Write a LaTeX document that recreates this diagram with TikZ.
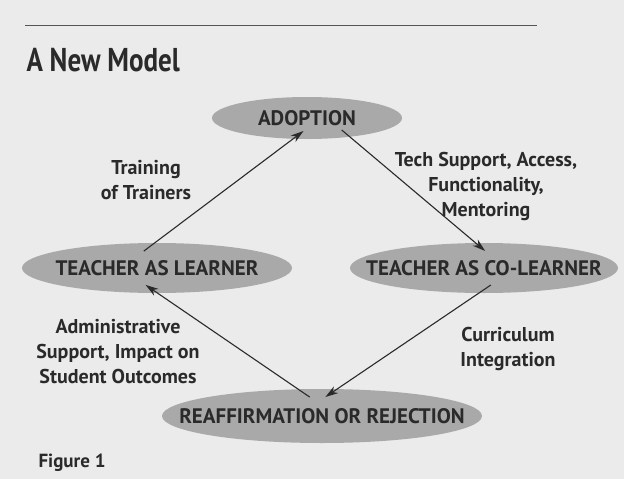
\documentclass[tikz,border=0pt]{standalone}
\usepackage{fontspec}
\setmainfont{PT Sans}
\newfontfamily\narrowfont{PT Sans}[FakeStretch=0.82]
\usetikzlibrary{arrows.meta,shapes.geometric}
\definecolor{paper}{HTML}{EBEBEB}
\definecolor{blob}{HTML}{A9A9A9}
\definecolor{ink}{HTML}{2A2A2A}
\tikzset{
	stage/.style={ellipse, fill=blob, text=ink, font=\bfseries\fontsize{21}{24}\selectfont, outer sep=-8pt, inner sep=-60pt},
	note/.style={text=ink, font=\bfseries\fontsize{20}{25}\selectfont, align=center},
	link/.style={-{Stealth[length=13pt,width=8pt]}, draw=ink, line width=1.1pt}
}
\begin{document}
\begin{tikzpicture}[x=1pt,y=-1pt]
\fill[paper] (0,0) rectangle (624,479);
\useasboundingbox (0,0) rectangle (624,479);

\draw[ink!80, line width=0.8pt] (25,25) -- (537,25);
\node at (23,60)[anchor=west, text=ink, font=\narrowfont\bfseries\fontsize{33}{38}\selectfont](title){A New Model};

\node at (307,118)[stage, minimum width=190pt, minimum height=42pt](adopt){ADOPTION};
\node at (157,268)[stage, minimum width=270pt, minimum height=50pt](learner){TEACHER AS LEARNER};
\node at (484,268)[stage, minimum width=268pt, minimum height=50pt](colearner){TEACHER AS CO-LEARNER};
\node at (322,416)[stage, minimum width=320pt, minimum height=54pt](reaff){REAFFIRMATION OR REJECTION};

\draw[link] (learner.128) -- (adopt.255);
\draw[link] (adopt.-19) -- (colearner.86);
\draw[link] (colearner.-68) -- (reaff.80);
\draw[link] (reaff.123) -- (learner.-124);

\node at (146,180)[note](tt){Training\\of Trainers};
\node at (486,186)[note](tech){Tech Support, Access,\\Functionality,\\Mentoring};
\node at (118,352)[note](admin){Administrative\\Support, Impact on\\Student Outcomes};
\node at (508,349)[note](curr){Curriculum\\Integration};

\node at (35,463)[anchor=west, text=ink, font=\bfseries\fontsize{19}{22}\selectfont](fig){Figure 1};
\end{tikzpicture}
\end{document}
